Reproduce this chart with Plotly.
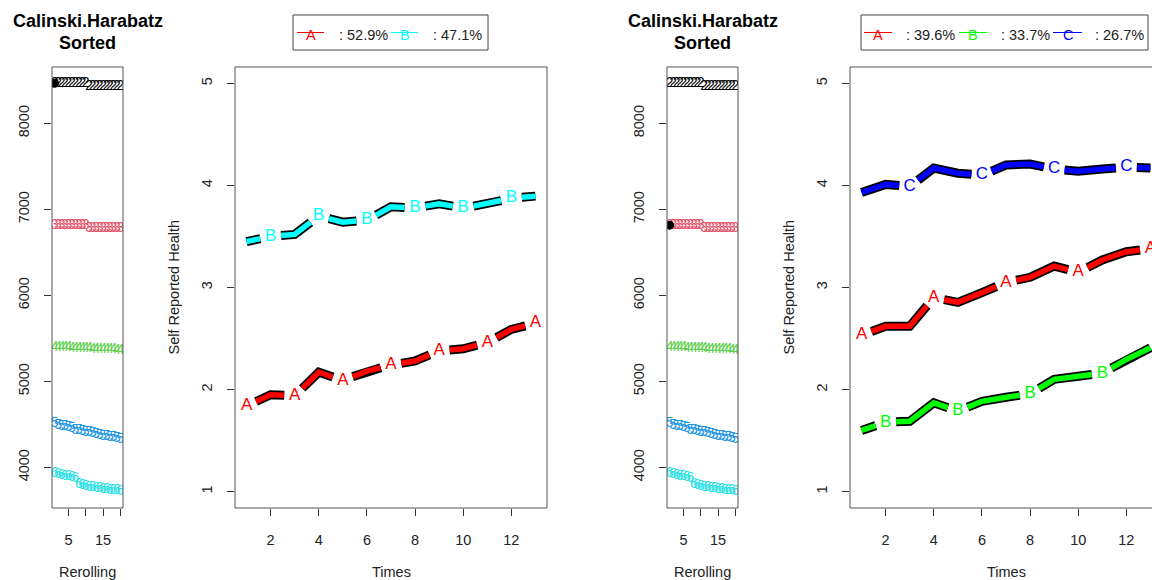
import math
import plotly.graph_objects as go

W, H = 1152, 580

# ---------------- data ----------------
rerolling = list(range(1, 21))
# Calinski-Harabatz criterion, sorted, per number of clusters (2..6)
ch_k2 = [8465, 8465, 8464, 8464, 8463, 8463, 8462, 8462, 8461, 8461,
         8431, 8430, 8430, 8429, 8429, 8428, 8428, 8427, 8427, 8426]
ch_k3 = [6816, 6816, 6815, 6815, 6815, 6814, 6814, 6813, 6813, 6812,
         6783, 6782, 6782, 6781, 6781, 6780, 6780, 6779, 6779, 6778]
ch_k4 = [5396, 5394, 5392, 5391, 5389, 5388, 5386, 5383, 5381, 5380,
         5378, 5375, 5374, 5372, 5370, 5369, 5367, 5365, 5364, 5362]
ch_k5 = [4515, 4490, 4478, 4470, 4462, 4450, 4432, 4425, 4415, 4408,
         4400, 4392, 4380, 4372, 4365, 4356, 4350, 4343, 4338, 4330]
ch_k6 = [3925, 3912, 3905, 3896, 3890, 3882, 3870, 3800, 3785, 3777,
         3770, 3765, 3758, 3752, 3746, 3742, 3736, 3731, 3726, 3718]
ch_series = [("2", ch_k2), ("3", ch_k3), ("4", ch_k4), ("5", ch_k5), ("6", ch_k6)]
ch_colors = ["#000000", "#DF536B", "#61D04F", "#2297E6", "#28E2E5"]

times = list(range(1, 14))
# 2-cluster solution
p2_A = [1.84, 1.95, 1.94, 2.17, 2.09, 2.18, 2.24, 2.28, 2.38, 2.40, 2.46, 2.59, 2.65]
p2_B = [3.45, 3.50, 3.52, 3.70, 3.64, 3.66, 3.79, 3.78, 3.82, 3.78, 3.82, 3.875, 3.895]
p2_names = ["A", "B"]
p2_pct = ["52.9%", "47.1%"]
p2_colors = ["#FF0000", "#00FFFF"]
# 3-cluster solution
p3_A = [2.535, 2.62, 2.62, 2.90, 2.855, 2.95, 3.05, 3.10, 3.21, 3.15, 3.27, 3.35, 3.38]
p3_B = [1.60, 1.68, 1.69, 1.87, 1.79, 1.885, 1.925, 1.96, 2.10, 2.13, 2.16, 2.295, 2.41]
p3_C = [3.93, 4.01, 3.99, 4.17, 4.12, 4.10, 4.20, 4.21, 4.16, 4.14, 4.16, 4.18, 4.17]
p3_names = ["A", "B", "C"]
p3_pct = ["39.6%", "33.7%", "26.7%"]
p3_colors = ["#FF0000", "#00FF00", "#0000FF"]

# ---------------- layout helpers ----------------
def fx(px):
    return px / W

def fy(py):
    return 1 - py / H

TOP, BOT = 67, 508
panels = {
    "A": dict(x0=52, x1=123, xr=[0.24, 20.76], yr=[3528, 8655]),
    "B": dict(x0=235, x1=547, xr=[0.52, 13.48], yr=[0.84, 5.16]),
    "C": dict(x0=667, x1=738, xr=[0.24, 20.76], yr=[3528, 8655]),
    "D": dict(x0=850, x1=1152, xr=[0.52, 0.52 + (1152 - 850) / ((547 - 235) / 12.96)], yr=[0.84, 5.16]),
}
FONT = "Liberation Sans, Arial, sans-serif"

fig = go.Figure()

def axnames(i):
    return ("x" if i == 1 else f"x{i}", "y" if i == 1 else f"y{i}")

# ---------------- criterion panels ----------------
for idx, sel in ((1, 1), (3, 2)):
    xa, ya = axnames(idx)
    for (lab, vals), col in zip(ch_series, ch_colors):
        fig.add_trace(go.Scatter(x=rerolling, y=vals, mode="text", text=[lab] * len(vals),
                                 textfont=dict(family=FONT, size=14, color=col),
                                 xaxis=xa, yaxis=ya, showlegend=False, hoverinfo="skip"))
    sel_vals = ch_series[sel - 1][1]
    fig.add_trace(go.Scatter(x=[rerolling[0]], y=[sel_vals[0]], mode="markers",
                             marker=dict(color="black", size=9),
                             xaxis=xa, yaxis=ya, showlegend=False, hoverinfo="skip"))

# ---------------- trajectory panels ----------------
def gapped(xs, ys, labeled, sx, sy, g=10.5):
    X, Y = [], []
    last_end = None
    for i in range(len(xs) - 1):
        x0, y0, x1, y1 = xs[i], ys[i], xs[i + 1], ys[i + 1]
        dxp, dyp = (x1 - x0) * sx, (y1 - y0) * sy
        L = math.hypot(dxp, dyp)
        ux, uy = dxp / L, dyp / L
        a = g if labeled[i] else 0.0
        b = g if labeled[i + 1] else 0.0
        if L <= a + b:
            last_end = None
            continue
        sxp, syp = x0 + ux * a / sx, y0 + uy * a / sy
        exp_, eyp = x1 - ux * b / sx, y1 - uy * b / sy
        if last_end is not None and a == 0:
            X.append(exp_); Y.append(eyp)
        else:
            if X:
                X.append(None); Y.append(None)
            X += [sxp, exp_]; Y += [syp, eyp]
        last_end = (exp_, eyp) if b == 0 else None
    return X, Y

for idx, key, series, names, cols in ((2, "B", [p2_A, p2_B], p2_names, p2_colors),
                                      (4, "D", [p3_A, p3_B, p3_C], p3_names, p3_colors)):
    xa, ya = axnames(idx)
    P = panels["B"]
    sx = (P["x1"] - P["x0"]) / (P["xr"][1] - P["xr"][0])
    sy = (BOT - TOP) / (P["yr"][1] - P["yr"][0])
    n = len(series)
    for k, (vals, nm, col) in enumerate(zip(series, names, cols)):
        labeled = [(i % n) == k for i in range(len(times))]
        X, Y = gapped(times, vals, labeled, sx, sy)
        fig.add_trace(go.Scatter(x=X, y=Y, mode="lines", line=dict(color="black", width=9),
                                 xaxis=xa, yaxis=ya, showlegend=False, hoverinfo="skip"))
        fig.add_trace(go.Scatter(x=X, y=Y, mode="lines", line=dict(color=col, width=5.5),
                                 xaxis=xa, yaxis=ya, showlegend=False, hoverinfo="skip"))
        lx = [t for t, l in zip(times, labeled) if l]
        ly = [v for v, l in zip(vals, labeled) if l]
        fig.add_trace(go.Scatter(x=lx, y=ly, mode="text", text=[nm] * len(lx),
                                 textfont=dict(family=FONT, size=17, color=col),
                                 cliponaxis=False,
                                 xaxis=xa, yaxis=ya, showlegend=False, hoverinfo="skip"))

# ---------------- axes ----------------
axis_common = dict(showgrid=False, zeroline=False, showline=False, ticks="outside",
                   ticklen=7, tickwidth=1, tickcolor="#333333",
                   tickfont=dict(family=FONT, size=14.5, color="#222222"), fixedrange=True)
lay = {}
for i, key in enumerate(["A", "B", "C", "D"], start=1):
    P = panels[key]
    xn = "xaxis" if i == 1 else f"xaxis{i}"
    yn = "yaxis" if i == 1 else f"yaxis{i}"
    ya = "y" if i == 1 else f"y{i}"
    xa = "x" if i == 1 else f"x{i}"
    if key in ("A", "C"):
        xt = dict(tickvals=[5, 10, 15, 20], ticktext=["5", "", "15", ""])
        yt = dict(tickvals=[4000, 5000, 6000, 7000, 8000])
    else:
        xt = dict(tickvals=[2, 4, 6, 8, 10, 12])
        yt = dict(tickvals=[1, 2, 3, 4, 5])
    lay[xn] = dict(axis_common, domain=[fx(P["x0"]), fx(P["x1"])], range=P["xr"], anchor=ya,
                   ticklabelstandoff=12, **xt)
    lay[yn] = dict(axis_common, domain=[fy(BOT), fy(TOP)], range=P["yr"], anchor=xa,
                   tickangle=-90, ticklabelstandoff=9, **yt)
fig.update_layout(**lay)

shapes = []
annotations = []
# frames
for key in ["A", "B", "C", "D"]:
    P = panels[key]
    x1 = P["x1"] if key != "D" else 1162
    shapes.append(dict(type="rect", xref="paper", yref="paper", x0=fx(P["x0"]), x1=fx(x1),
                       y0=fy(BOT), y1=fy(TOP), line=dict(color="#555555", width=1)))

# titles of criterion panels
for key in ["A", "C"]:
    P = panels[key]
    cx = (P["x0"] + P["x1"]) / 2
    for txt, py in (("Calinski.Harabatz", 21), ("Sorted", 43)):
        annotations.append(dict(text=f"<b>{txt}</b>", x=fx(cx), y=fy(py), xref="paper", yref="paper",
                                showarrow=False, xanchor="center", yanchor="middle",
                                font=dict(family=FONT, size=18, color="black")))
    annotations.append(dict(text="Rerolling", x=fx(cx), y=fy(572), xref="paper", yref="paper",
                            showarrow=False, xanchor="center", yanchor="middle",
                            font=dict(family=FONT, size=14.5, color="#222222")))

# axis titles of trajectory panels
for key, ylx in (("B", 173), ("D", 788)):
    P = panels[key]
    cx = (P["x0"] + (P["x1"] if key == "B" else 1163)) / 2
    annotations.append(dict(text="Times", x=fx(cx), y=fy(572), xref="paper", yref="paper",
                            showarrow=False, xanchor="center", yanchor="middle",
                            font=dict(family=FONT, size=14.5, color="#222222")))
    annotations.append(dict(text="Self Reported Health", x=fx(ylx), y=fy((TOP + BOT) / 2),
                            xref="paper", yref="paper", showarrow=False, textangle=-90,
                            xanchor="center", yanchor="middle",
                            font=dict(family=FONT, size=14.5, color="#222222")))

# legends
def legend(box, items):
    x0, x1 = box
    shapes.append(dict(type="rect", xref="paper", yref="paper", x0=fx(x0), x1=fx(x1),
                       y0=fy(50), y1=fy(15), line=dict(color="#444444", width=1)))
    for (lx0, lx1, tx, nm, pct, col) in items:
        shapes.append(dict(type="line", xref="paper", yref="paper", x0=fx(lx0), x1=fx(lx1),
                           y0=fy(32.5), y1=fy(32.5), line=dict(color=col, width=1)))
        annotations.append(dict(text=nm, x=fx((lx0 + lx1) / 2), y=fy(35), xref="paper", yref="paper",
                                showarrow=False, xanchor="center", yanchor="middle",
                                font=dict(family=FONT, size=14.5, color=col)))
        annotations.append(dict(text=": " + pct, x=fx(tx), y=fy(35), xref="paper", yref="paper",
                                showarrow=False, xanchor="left", yanchor="middle",
                                font=dict(family=FONT, size=14.5, color="#222222")))

legend((293, 488), [(297, 324, 337, p2_names[0], p2_pct[0], p2_colors[0]),
                    (391, 418, 431, p2_names[1], p2_pct[1], p2_colors[1])])
legend((861, 1148), [(864, 892, 904, p3_names[0], p3_pct[0], p3_colors[0]),
                     (959, 987, 999, p3_names[1], p3_pct[1], p3_colors[1]),
                     (1053, 1082, 1093, p3_names[2], p3_pct[2], p3_colors[2])])

fig.update_layout(width=W, height=H, margin=dict(l=0, r=0, t=0, b=0),
                  paper_bgcolor="white", plot_bgcolor="white",
                  shapes=shapes, annotations=annotations, showlegend=False)

fig.write_html("out.html", config={"displayModeBar": False})
